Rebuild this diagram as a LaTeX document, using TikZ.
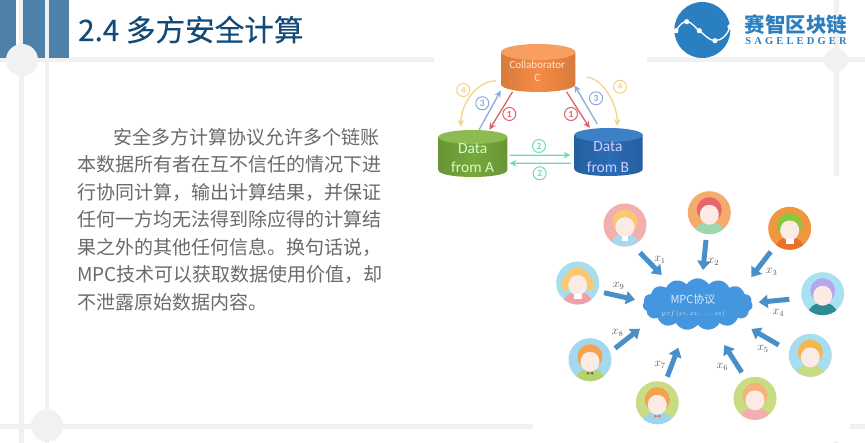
\documentclass[tikz,border=0pt]{standalone}
\usepackage{fontspec}
\setmainfont{Noto Sans CJK SC}
\newfontfamily\titlef[FakeBold=0.35]{Noto Sans CJK SC}
\newfontfamily\latinf{Carlito}
\newfontfamily\logofont[LetterSpace=30]{Liberation Serif}
\usetikzlibrary{arrows.meta,calc,shapes.symbols}
\definecolor{deco}{HTML}{F1F1F1}
\definecolor{barblue}{HTML}{4F81A8}
\definecolor{titleblue}{HTML}{124B7A}
\definecolor{bodygray}{HTML}{6A6A6A}
\definecolor{logoblue}{HTML}{2A7FC1}
\definecolor{redc}{HTML}{D9636B}
\definecolor{bluec}{HTML}{8FA9DC}
\definecolor{yellowc}{HTML}{F5D384}
\definecolor{greenc}{HTML}{6FDDB0}
\definecolor{bigarrow}{HTML}{4A90C8}
\definecolor{cloudc}{HTML}{4496DE}
\definecolor{skin}{HTML}{FCEAE4}
\definecolor{bowred}{HTML}{E86A50}
\definecolor{pighair}{HTML}{F9C873}
\tikzset{
  decoline/.style={draw=deco,line width=#1},
  decodot/.style={circle,fill=deco,inner sep=0pt},
  para/.style={anchor=base west,inner sep=0pt,text=bodygray,font=\fontsize{19}{19}\selectfont},
  flow/.style={line width=1.3pt,-{Stealth[length=7pt,width=6.5pt]}},
  num/.style={circle,draw,line width=1pt,fill=white,minimum size=13pt,inner sep=0pt,font=\latinf\bfseries\fontsize{9.5}{9.5}\selectfont},
  bigflow/.style={draw=bigarrow,line width=5pt,-{Triangle[length=9pt,width=13pt]}},
  xlab/.style={inner sep=0pt,text=black!65,font=\fontsize{12}{12}\selectfont},
  avatarbg/.style={circle,minimum size=43pt,inner sep=0pt,fill=#1},
  cylbox/.style={rectangle,inner sep=0pt},
  cylbig/.style={inner sep=0pt,font=\latinf\fontsize{15.5}{16}\selectfont},
  cylsmall/.style={inner sep=0pt,font=\latinf\fontsize{11}{12}\selectfont,text=white!80!orange},
}
% name, x, y, bg, hair, body, extra
\newcommand{\avatar}[7]{%
  \definecolor{avbg}{HTML}{#4}\definecolor{avhair}{HTML}{#5}\definecolor{avbody}{HTML}{#6}%
  \node[avatarbg=avbg] (#1) at (#2,#3) {};
  \begin{scope}[shift={(#2,#3)}]
    \clip (0,0) circle[radius=21.5];
    \fill[avbody] (0,20) ellipse[x radius=14.5,y radius=11];
    \fill[avhair] (0,-3) circle[radius=12.5];
    \fill[skin] (0,2) ellipse[x radius=9.5,y radius=10];
    \fill[avhair] (-10,-5) .. controls (-8,-14) and (8,-14) .. (10,-5) .. controls (4,-9) and (-4,-9) .. (-10,-5);
    #7
  \end{scope}
}
\newcommand{\cyl}[8]{%
  \definecolor{cylside}{HTML}{#7}\definecolor{cyltop}{HTML}{#8}%
  \path[left color=cylside!88!black,right color=cylside!88!black,middle color=cylside]
    (#2,#4) -- (#2,#5) .. controls (#2,#5+1.33*#6) and (#3,#5+1.33*#6) .. (#3,#5) -- (#3,#4) -- cycle;
  \fill[cyltop] ({(#2+#3)/2},#4) ellipse[x radius={(#3-#2)/2},y radius=#6];
}
\begin{document}
\begin{tikzpicture}[x=1pt,y=-1pt]
\useasboundingbox (0,0) rectangle (865,443);
\fill[white] (0,0) rectangle (865,443);
% decorative frame
\draw[decoline=5pt] (21,0) -- (21,443);
\draw[decoline=4.5pt] (47,0) -- (47,443);
\draw[decoline=5pt] (836,0) -- (836,443);
\draw[decoline=5pt] (0,60) -- (865,60);
\draw[decoline=4.5pt] (0,426.5) -- (865,426.5);
\fill[barblue] (0,0) rectangle (16,58);
\fill[barblue] (23,0) rectangle (45,58);
\fill[barblue] (49,0) rectangle (68.5,58);
\node[decodot,minimum size=32pt] (dotA) at (22,60) {};
\node[decodot,minimum size=32pt] (dotB) at (47,425.5) {};
\node[decodot,minimum size=24pt] (dotC) at (836,60) {};
% picture backgrounds
\fill[white] (434,55) rectangle (647,190);
\fill[white] (533,176) rectangle (850,443);
\draw[decoline=4pt] (836,441) -- (836,443);
% title
\node[anchor=base west,inner sep=0pt,text=titleblue,font=\titlef\fontsize{29.6}{30}\selectfont] (title) at (78,41) {2.4 多方安全计算};
% paragraph
\node[para] (l1) at (113.5,144.5) {安全多方计算协议允许多个链账};
\node[para] (l2) at (77,172) {本数据所有者在互不信任的情况下进};
\node[para] (l3) at (77,199.5) {行协同计算，输出计算结果，并保证};
\node[para] (l4) at (77,227) {任何一方均无法得到除应得的计算结};
\node[para] (l5) at (77,254.5) {果之外的其他任何信息。换句话说，};
\node[para] (l6) at (77,282) {MPC技术可以获取数据使用价值，却};
\node[para] (l7) at (77,309.5) {不泄露原始数据内容。};
% logo
\node[circle,fill=logoblue,minimum size=56pt,inner sep=0pt] (logo) at (702.3,30) {};
\draw[white,line width=1.3pt] (676,30.7) .. controls (679,26) and (682,21.7) .. (686.7,21.7) .. controls (692,21.7) and (695,28) .. (699.3,30.7) .. controls (704,34) and (709,40.7) .. (715,40.7) .. controls (722,40.7) and (728,34) .. (730,26.7);
\foreach \p in {(676,30.7),(686.7,21.7),(699.3,30.7),(715,40.7),(730,26.7)} \fill[white] \p circle[radius=2.6];
\node[inner sep=0pt,text=logoblue,font=\bfseries\fontsize{20.5}{21}\selectfont] (logoname) at (796,24.5) {赛智区块链};
\node[inner sep=0pt,text=logoblue,font=\logofont\bfseries\fontsize{10.5}{11}\selectfont] (logosub) at (796,41) {SAGELEDGER};
% cylinders
\cyl{C}{501}{575.3}{52}{84}{8}{F58B45}{F79E60}
\cyl{A}{438.3}{507.3}{137}{170}{7}{78A83C}{8CBB52}
\cyl{B}{574.3}{642.7}{135}{169}{7}{2A6CB5}{3E80C6}
\node[cylbox,minimum width=74.3pt,minimum height=47.4pt] (C) at (538.15,68) {};
\node[cylbox,minimum width=69pt,minimum height=46.7pt] (A) at (472.8,153.35) {};
\node[cylbox,minimum width=68.4pt,minimum height=47.7pt] (B) at (608.5,152.15) {};
\node[cylsmall] (ct1) at (537.3,65) {Collaborator};
\node[cylsmall] (ct2) at (537.3,78.3) {C};
\node[cylbig,text=white!80!green] (at1) at (472.7,148.3) {Data};
\node[cylbig,text=white!80!green] (at2) at (472.7,167.7) {from A};
\node[cylbig,text=white!80!blue] (bt1) at (608,147) {Data};
\node[cylbig,text=white!80!blue] (bt2) at (608,167) {from B};
% flows
\draw[flow,draw=redc] (C.223) -- (A.55);
\draw[flow,draw=redc] (C.-40) -- (B.128);
\draw[flow,draw=bluec] (A.75) -- (C.211);
\draw[flow,draw=bluec,shorten <=5pt,shorten >=-2pt] (B.110) -- (C.-27);
\draw[flow,draw=yellowc,shorten <=5pt,shorten >=3pt] (C.199) to[out=180,in=90] (A.117);
\draw[flow,draw=yellowc,shorten <=11pt,shorten >=2pt] (C.-14) to[out=0,in=90] (B.70);
\draw[flow,draw=greenc,shorten <=2pt,shorten >=3.5pt] (A.-3) -- (B.185);
\draw[flow,draw=greenc,shorten <=3pt,shorten >=2pt] (B.198) -- (A.-16);
\node[num,draw=redc,text=redc] (n1a) at (509.3,114) {1};
\node[num,draw=redc,text=redc] (n1b) at (571,114) {1};
\node[num,draw=bluec,text=bluec] (n3a) at (482.3,103.3) {3};
\node[num,draw=bluec,text=bluec] (n3b) at (596,98.3) {3};
\node[num,draw=yellowc,text=yellowc] (n4a) at (463.3,90) {4};
\node[num,draw=yellowc,text=yellowc] (n4b) at (620,86.7) {4};
\node[num,draw=greenc,text=greenc] (n2a) at (539,146) {2};
\node[num,draw=greenc,text=greenc] (n2b) at (539.7,173.3) {2};
% MPC cloud
\node[cloud,cloud puffs=15,cloud puff arc=115,aspect=2.1,fill=cloudc,inner sep=0pt,minimum width=110pt,minimum height=52pt] (cloud) at (697.7,304.3) {};
\node[inner sep=0pt,text=white!80!cloudc,font=\fontsize{11}{12}\selectfont] (mpc) at (693,299) {MPC协议};
\node[inner sep=0pt,text=white!80!cloudc,font=\fontsize{7}{8}\selectfont] (func) at (693,313.5) {\scalebox{0.9}{$y{=}f\,(x_1,x_2,\ldots,x_9)$}};
% avatars
\avatar{a1}{625}{225}{F2AFAE}{F9C873}{A8D8EE}{\fill[white] (-3,11) rectangle (3,16);}
\avatar{a2}{709.3}{212.7}{F5AB6B}{E8666A}{9ED6B0}{}
\avatar{a3}{789.7}{228.3}{F0963F}{8CC63F}{E8702A}{\fill[white] (-4,11) rectangle (4,16);}
\avatar{a4}{822.7}{293.7}{A8E2F2}{B6A6EE}{2E8A96}{}
\avatar{a5}{810.3}{355.3}{A8DDF0}{F7B64D}{C6DB86}{}
\avatar{a6}{755}{398.3}{C8DC84}{F7B27A}{F4AEB0}{}
\avatar{a7}{657.3}{402.7}{C8DC84}{F4A24E}{9AD4EE}{\fill[bowred] (-3,12) -- (3,15) -- (3,12) -- (-3,15) -- cycle;}
\avatar{a8}{590}{359.7}{A3D9EF}{F4A24E}{B7D26C}{\fill[black!60] (-3,12) -- (3,15) -- (3,12) -- (-3,15) -- cycle;}
\avatar{a9}{577.7}{283}{A8DDF0}{F9C873}{F0A0A6}{\fill[pighair] (-13,1) ellipse[x radius=3,y radius=7]; \fill[pighair] (13,1) ellipse[x radius=3,y radius=7]; \fill[white] (-4,11) rectangle (4,16);}
% big arrows
\draw[bigflow] ($(a1)+(15,27.7)$) -- ($(cloud)+(-36,-29.3)$);
\draw[bigflow] ($(a2)+(-3.3,27.3)$) -- ($(cloud)+(5.3,-34.3)$);
\draw[bigflow] ($(a3)+(-19,23.4)$) -- ($(cloud)+(53.6,-27.3)$);
\draw[bigflow] ($(a4)+(-33.4,5.6)$) -- ($(cloud)+(61,-2)$);
\draw[bigflow] ($(a5)+(-31.6,-10.3)$) -- ($(cloud)+(53.6,24.7)$);
\draw[bigflow] ($(a6)+(-13.3,-26)$) -- ($(cloud)+(26.6,40.7)$);
\draw[bigflow] ($(a7)+(10,-26)$) -- ($(cloud)+(-19.4,43.4)$);
\draw[bigflow] ($(a8)+(25,-11.4)$) -- ($(cloud)+(-57.7,24.4)$);
\draw[bigflow] ($(a9)+(26.3,9.7)$) -- ($(cloud)+(-62.7,-4.6)$);
\node[xlab] (x1) at (660,260) {$x_1$};
\node[xlab] (x2) at (713.3,261.7) {$x_2$};
\node[xlab] (x3) at (771.7,272.3) {$x_3$};
\node[xlab] (x4) at (778.3,313) {$x_4$};
\node[xlab] (x5) at (763,348.7) {$x_5$};
\node[xlab] (x6) at (722.3,367.3) {$x_6$};
\node[xlab] (x7) at (660,365) {$x_7$};
\node[xlab] (x8) at (617.7,333.3) {$x_8$};
\node[xlab] (x9) at (618.7,286) {$x_9$};
\end{tikzpicture}
\end{document}
